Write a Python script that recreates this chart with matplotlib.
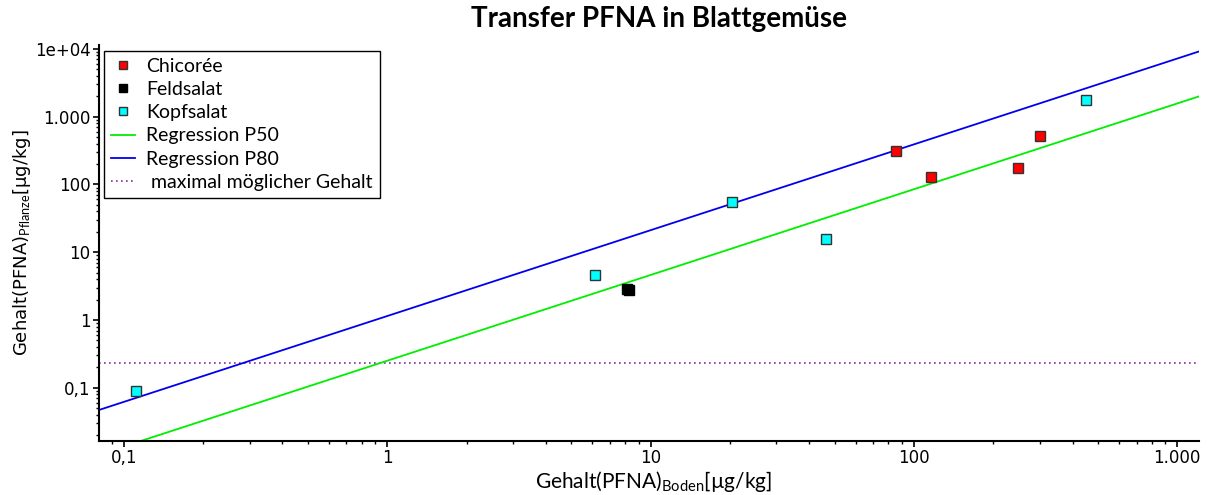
import matplotlib
matplotlib.use("Agg")
import matplotlib.pyplot as plt
from matplotlib.ticker import FixedLocator, FixedFormatter, LogLocator, NullFormatter
import numpy as np

# Messwerte Boden / Pflanze [µg/kg]
chicoree_boden = [85.5, 116, 248, 301]
chicoree_pflanze = [308, 130, 175, 517]
feldsalat_boden = [8.1, 8.3]
feldsalat_pflanze = [2.9, 2.75]
kopfsalat_boden = [0.111, 6.13, 20.3, 46.4, 452]
kopfsalat_pflanze = [0.089, 4.56, 54.4, 15.8, 1758]

# Regression log-log: y = a * x^b
p50_a, p50_b = 0.251, 1.265
p80_a, p80_b = 1.146, 1.266
max_gehalt = 0.23

x_ticks = [0.1, 1, 10, 100, 1000]
x_labels = ["0,1", "1", "10", "100", "1.000"]
y_ticks = [0.1, 1, 10, 100, 1000, 10000]
y_labels = ["0,1", "1", "10", "100", "1.000", "1e+04"]

xlim = (0.0804, 1210)
ylim = (0.0166, 11400)

plt.rcParams['mathtext.fontset'] = 'custom'
plt.rcParams['mathtext.rm'] = 'Lato'

fig = plt.figure(figsize=(12.1, 4.95), dpi=100)
ax = fig.add_axes([0.0818, 0.1097, 0.9092, 0.7994])

xs = np.array(xlim)
ax.plot(xs, p50_a * xs ** p50_b, color="#00ee00", lw=1.3, label="Regression P50", zorder=2)
ax.plot(xs, p80_a * xs ** p80_b, color="#0000ee", lw=1.3, label="Regression P80", zorder=2)
ax.axhline(max_gehalt, color="#8b2a9b", lw=1.2, ls=(0, (1, 2)), label=" maximal möglicher Gehalt", zorder=1)

ms = 6.5
ax.plot(chicoree_boden, chicoree_pflanze, "s", color="red", mec="#333333", mew=1, ms=ms,
        label="Chicorée", zorder=3)
ax.plot(feldsalat_boden, feldsalat_pflanze, "s", color="black", mec="black", mew=1, ms=ms,
        label="Feldsalat", zorder=3)
ax.plot(kopfsalat_boden, kopfsalat_pflanze, "s", color="cyan", mec="#333333", mew=1, ms=ms,
        label="Kopfsalat", zorder=3)

ax.set_xscale("log")
ax.set_yscale("log")
ax.set_xlim(*xlim)
ax.set_ylim(*ylim)

ax.xaxis.set_major_locator(FixedLocator(x_ticks))
ax.xaxis.set_major_formatter(FixedFormatter(x_labels))
ax.yaxis.set_major_locator(FixedLocator(y_ticks))
ax.yaxis.set_major_formatter(FixedFormatter(y_labels))
ax.xaxis.set_minor_locator(LogLocator(base=10, subs=np.arange(2, 10)))
ax.yaxis.set_minor_locator(LogLocator(base=10, subs=np.arange(2, 10)))
ax.xaxis.set_minor_formatter(NullFormatter())
ax.yaxis.set_minor_formatter(NullFormatter())

ax.tick_params(which="major", direction="out", length=4, width=1.2, labelsize=12,
               colors="black", pad=2)
ax.tick_params(which="minor", direction="out", length=2.5, width=1)
for s in ["top", "right"]:
    ax.spines[s].set_visible(False)
for s in ["left", "bottom"]:
    ax.spines[s].set_linewidth(1.5)

ax.set_xlabel("Gehalt(PFNA)$_{\\mathrm{Boden}}$[µg/kg]", fontsize=15, family="Lato")
ax.xaxis.set_label_coords(0.504, -0.102)
ax.xaxis.label.set_va("center")
ax.set_ylabel("Gehalt(PFNA)$_{\\mathrm{Pflanze}}$[µg/kg]", fontsize=13)
ax.yaxis.set_label_coords(-0.07, 0.5)
ax.yaxis.label.set_va("center")
fig.suptitle("Transfer PFNA in Blattgemüse", x=0.545, y=0.988, fontsize=20,
             fontweight="bold", family="Lato")

h, l = ax.get_legend_handles_labels()
order = [3, 4, 5, 0, 1, 2]
leg = ax.legend([h[i] for i in order], [l[i] for i in order], loc="upper left",
                bbox_to_anchor=(0.005, 0.985), borderaxespad=0, fancybox=False,
                edgecolor="black", framealpha=1, prop={"family": "Lato", "size": 14},
                handlelength=1.2, handletextpad=0.6, markerscale=0.85, labelspacing=0.32,
                borderpad=0.35)
leg.get_frame().set_linewidth(1)

fig.savefig("out.png", dpi=100)
